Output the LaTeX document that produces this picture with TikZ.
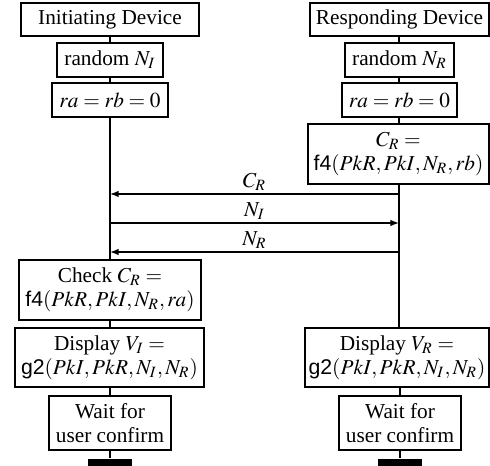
\documentclass[tikz,border=0pt]{standalone}
\usepackage{mathptmx}
\usepackage{fontspec}
\setmainfont{Liberation Serif}
\setsansfont{Liberation Sans}
\usetikzlibrary{arrows.meta}
\def\PX{0.47pt}
\begin{document}
\begin{tikzpicture}[x=0.47pt,y=-0.47pt, line width=0.6pt,
 box/.style={draw, align=center, inner sep=0pt, font=\fontsize{10}{11.3}\selectfont},
 msg/.style={-{Latex[length=4pt,width=3pt]}},
 lbl/.style={above, inner sep=1.2pt, font=\fontsize{10}{11.3}\selectfont},
 bar/.style={fill=black, draw=none, inner sep=0pt}]
\useasboundingbox (0,0) rectangle (490,466);
% left column
\node[box, minimum width=178*\PX, minimum height=33*\PX] (hL) at (110,19.5) {Initiating Device};
\node[box, minimum width=106*\PX, minimum height=34*\PX] (randL) at (110,60) {random $N_I$};
\node[box, minimum width=116*\PX, minimum height=34*\PX] (raL) at (110,100) {$ra = rb = 0$};
\node[box, minimum width=182*\PX, minimum height=60*\PX] (chk) at (110,290) {Check $C_R =$\\\textsf{f4}$(PkR,PkI,N_R,ra)$};
\node[box, minimum width=189*\PX, minimum height=59*\PX] (dispL) at (109.5,357.5) {Display $V_I =$\\\textsf{g2}$(PkI,PkR,N_I,N_R)$};
\node[box, minimum width=122*\PX, minimum height=54*\PX] (waitL) at (110,423) {Wait for\\user confirm};
\node[bar, minimum width=44*\PX, minimum height=7*\PX] (barL) at (110,462.5) {};
% right column
\node[box, minimum width=179*\PX, minimum height=33*\PX] (hR) at (399.5,19.5) {Responding Device};
\node[box, minimum width=109*\PX, minimum height=34*\PX] (randR) at (399.5,60) {random $N_R$};
\node[box, minimum width=115*\PX, minimum height=34*\PX] (raR) at (399.5,100) {$ra = rb = 0$};
\node[box, minimum width=181*\PX, minimum height=60*\PX] (crR) at (398.5,154) {$C_R =$\\\textsf{f4}$(PkR,PkI,N_R,rb)$};
\node[box, minimum width=184*\PX, minimum height=59*\PX] (dispR) at (397,357.5) {Display $V_R =$\\\textsf{g2}$(PkI,PkR,N_I,N_R)$};
\node[box, minimum width=122*\PX, minimum height=54*\PX] (waitR) at (400,423) {Wait for\\user confirm};
\node[bar, minimum width=44*\PX, minimum height=7*\PX] (barR) at (400,462.5) {};
% lifeline coordinates
\coordinate (l1) at (110,194);
\coordinate (l2) at (110,223);
\coordinate (l3) at (110,252);
\coordinate (r1) at (399,194);
\coordinate (r2) at (399,223);
\coordinate (r3) at (399,252);
\coordinate (rtop) at (399,184);
\coordinate (rbot) at (399,328);
% left lifeline
\draw (hL) -- (randL);
\draw (randL) -- (raL);
\draw (raL) -- (chk);
\draw (chk) -- (dispL.north -| chk);
\draw (dispL.south -| waitL) -- (waitL);
\draw (waitL) -- (barL);
% right lifeline
\draw (hR.south -| r1) -- (randR.north -| r1);
\draw (randR.south -| r1) -- (raR.north -| r1);
\draw (raR.south -| r1) -- (crR.north -| r1);
\draw (rtop) -- (rbot);
\draw (dispR.south -| waitR) -- (waitR);
\draw (waitR) -- (barR);
% messages
\draw[msg] (r1) -- node[lbl] {$C_R$} (l1);
\draw[msg] (l2) -- node[lbl] {$N_I$} (r2);
\draw[msg] (r3) -- node[lbl] {$N_R$} (l3);
\end{tikzpicture}
\end{document}
